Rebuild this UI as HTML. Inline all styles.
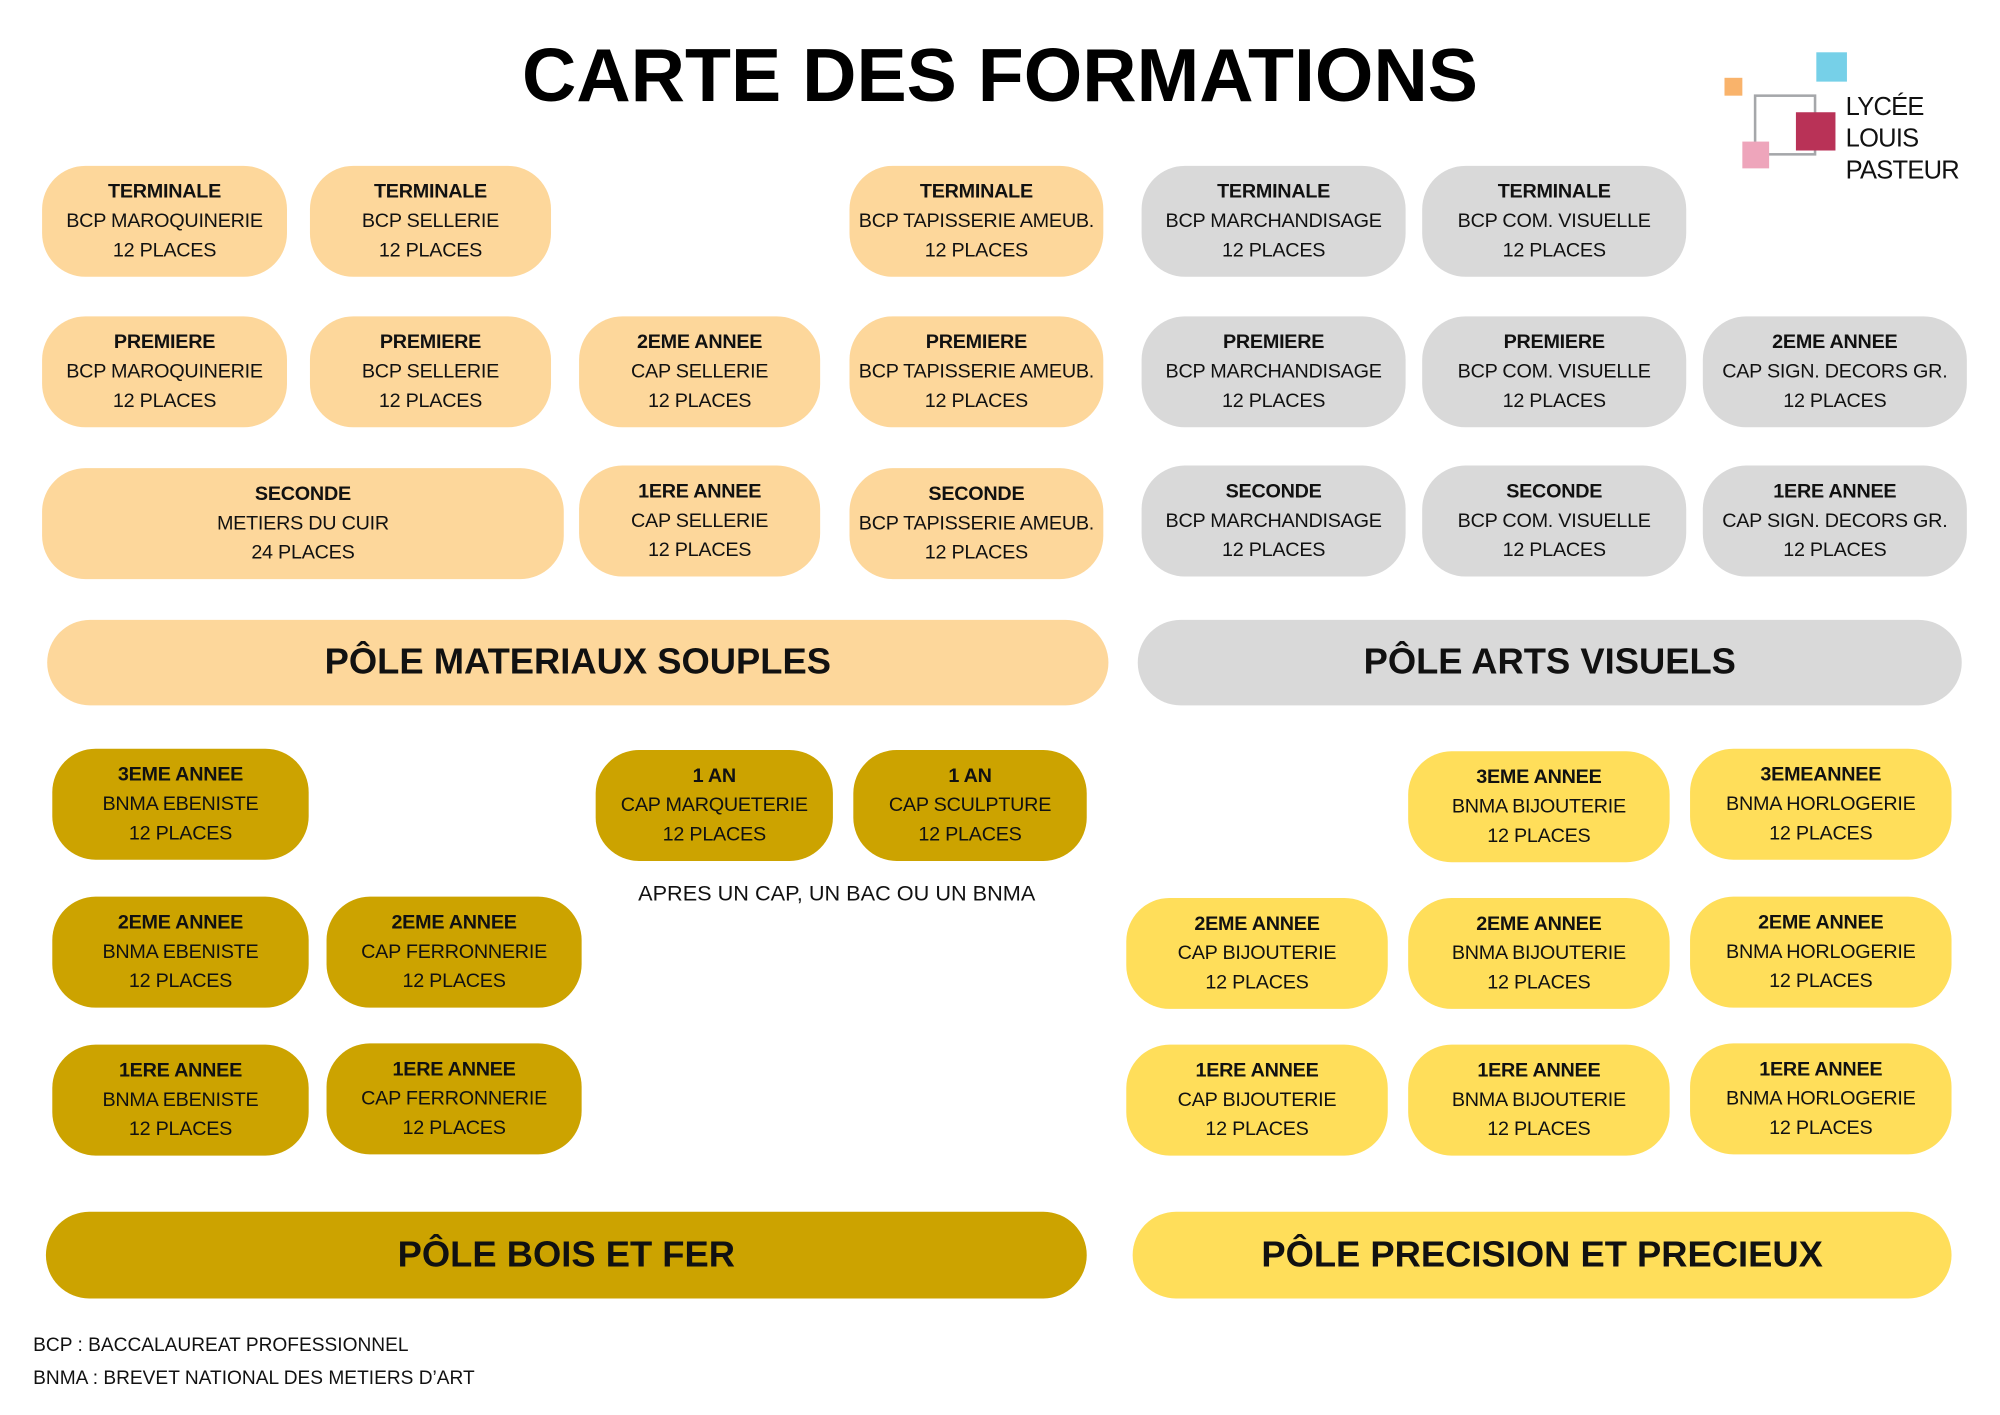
<!DOCTYPE html>
<html><head><meta charset="utf-8"><style>
html,body{margin:0;padding:0;background:#fff;}
body{width:2000px;height:1414px;overflow:hidden;position:relative;font-family:"Liberation Sans",sans-serif;}
#w{position:absolute;left:0;top:0;width:1568px;height:1109px;transform:scale(1.27551);transform-origin:0 0;}
.b{position:absolute;border-radius:34px;display:flex;flex-direction:column;justify-content:center;align-items:center;text-align:center;font-size:15.5px;line-height:23px;color:#111;letter-spacing:-0.2px;}
.b b{font-weight:bold;}
.p{background:#FDD79B}.g{background:#D9D9D9}.o{background:#CCA300}.y{background:#FFDE5A}
.bar{position:absolute;border-radius:34px;display:flex;justify-content:center;align-items:center;font-weight:bold;font-size:28.5px;color:#111;}
.t{position:absolute;font-size:15px;color:#111;}
</style></head><body><div id="w">
<div style="position:absolute;left:0;width:1568px;top:25px;text-align:center;font-weight:900;font-size:59px;color:#000;">CARTE DES FORMATIONS</div>
<div style="position:absolute;left:1352px;top:61px;width:14px;height:14px;background:#F9B36B"></div>
<div style="position:absolute;left:1424px;top:41px;width:24px;height:23px;background:#76D0E8"></div>
<div style="position:absolute;left:1375px;top:74px;width:45px;height:44px;border:2.5px solid #A5A7AA"></div>
<div style="position:absolute;left:1408px;top:88px;width:31px;height:30px;background:#B93257"></div>
<div style="position:absolute;left:1366px;top:111px;width:21px;height:21px;background:#EEA5BB"></div>
<div style="position:absolute;left:1447px;top:72px;font-size:20px;line-height:25px;letter-spacing:-0.6px;color:#111;">LYCÉE<br>LOUIS<br>PASTEUR</div>

<div class="b p" style="left:33px;top:130px;width:192px;height:87px"><b>TERMINALE</b>BCP MAROQUINERIE<br>12 PLACES</div>
<div class="b p" style="left:243px;top:130px;width:189px;height:87px"><b>TERMINALE</b>BCP SELLERIE<br>12 PLACES</div>
<div class="b p" style="left:666px;top:130px;width:199px;height:87px"><b>TERMINALE</b>BCP TAPISSERIE AMEUB.<br>12 PLACES</div>
<div class="b g" style="left:895px;top:130px;width:207px;height:87px"><b>TERMINALE</b>BCP MARCHANDISAGE<br>12 PLACES</div>
<div class="b g" style="left:1115px;top:130px;width:207px;height:87px"><b>TERMINALE</b>BCP COM. VISUELLE<br>12 PLACES</div>

<div class="b p" style="left:33px;top:248px;width:192px;height:87px"><b>PREMIERE</b>BCP MAROQUINERIE<br>12 PLACES</div>
<div class="b p" style="left:243px;top:248px;width:189px;height:87px"><b>PREMIERE</b>BCP SELLERIE<br>12 PLACES</div>
<div class="b p" style="left:454px;top:248px;width:189px;height:87px"><b>2EME ANNEE</b>CAP SELLERIE<br>12 PLACES</div>
<div class="b p" style="left:666px;top:248px;width:199px;height:87px"><b>PREMIERE</b>BCP TAPISSERIE AMEUB.<br>12 PLACES</div>
<div class="b g" style="left:895px;top:248px;width:207px;height:87px"><b>PREMIERE</b>BCP MARCHANDISAGE<br>12 PLACES</div>
<div class="b g" style="left:1115px;top:248px;width:207px;height:87px"><b>PREMIERE</b>BCP COM. VISUELLE<br>12 PLACES</div>
<div class="b g" style="left:1335px;top:248px;width:207px;height:87px"><b>2EME ANNEE</b>CAP SIGN. DECORS GR.<br>12 PLACES</div>

<div class="b p" style="left:33px;top:367px;width:409px;height:87px"><b>SECONDE</b>METIERS DU CUIR<br>24 PLACES</div>
<div class="b p" style="left:454px;top:365px;width:189px;height:87px"><b>1ERE ANNEE</b>CAP SELLERIE<br>12 PLACES</div>
<div class="b p" style="left:666px;top:367px;width:199px;height:87px"><b>SECONDE</b>BCP TAPISSERIE AMEUB.<br>12 PLACES</div>
<div class="b g" style="left:895px;top:365px;width:207px;height:87px"><b>SECONDE</b>BCP MARCHANDISAGE<br>12 PLACES</div>
<div class="b g" style="left:1115px;top:365px;width:207px;height:87px"><b>SECONDE</b>BCP COM. VISUELLE<br>12 PLACES</div>
<div class="b g" style="left:1335px;top:365px;width:207px;height:87px"><b>1ERE ANNEE</b>CAP SIGN. DECORS GR.<br>12 PLACES</div>

<div class="bar p" style="left:37px;top:486px;width:832px;height:67px">PÔLE MATERIAUX SOUPLES</div>
<div class="bar g" style="left:892px;top:486px;width:646px;height:67px">PÔLE ARTS VISUELS</div>

<div class="b o" style="left:41px;top:587px;width:201px;height:87px"><b>3EME ANNEE</b>BNMA EBENISTE<br>12 PLACES</div>
<div class="b o" style="left:467px;top:588px;width:186px;height:87px"><b>1 AN</b>CAP MARQUETERIE<br>12 PLACES</div>
<div class="b o" style="left:669px;top:588px;width:183px;height:87px"><b>1 AN</b>CAP SCULPTURE<br>12 PLACES</div>
<div class="t" style="left:456px;width:400px;top:691px;text-align:center;font-size:17px">APRES UN CAP, UN BAC OU UN BNMA</div>
<div class="b o" style="left:41px;top:703px;width:201px;height:87px"><b>2EME ANNEE</b>BNMA EBENISTE<br>12 PLACES</div>
<div class="b o" style="left:256px;top:703px;width:200px;height:87px"><b>2EME ANNEE</b>CAP FERRONNERIE<br>12 PLACES</div>
<div class="b o" style="left:41px;top:819px;width:201px;height:87px"><b>1ERE ANNEE</b>BNMA EBENISTE<br>12 PLACES</div>
<div class="b o" style="left:256px;top:818px;width:200px;height:87px"><b>1ERE ANNEE</b>CAP FERRONNERIE<br>12 PLACES</div>

<div class="b y" style="left:1104px;top:589px;width:205px;height:87px"><b>3EME ANNEE</b>BNMA BIJOUTERIE<br>12 PLACES</div>
<div class="b y" style="left:1325px;top:587px;width:205px;height:87px"><b>3EMEANNEE</b>BNMA HORLOGERIE<br>12 PLACES</div>
<div class="b y" style="left:883px;top:704px;width:205px;height:87px"><b>2EME ANNEE</b>CAP BIJOUTERIE<br>12 PLACES</div>
<div class="b y" style="left:1104px;top:704px;width:205px;height:87px"><b>2EME ANNEE</b>BNMA BIJOUTERIE<br>12 PLACES</div>
<div class="b y" style="left:1325px;top:703px;width:205px;height:87px"><b>2EME ANNEE</b>BNMA HORLOGERIE<br>12 PLACES</div>
<div class="b y" style="left:883px;top:819px;width:205px;height:87px"><b>1ERE ANNEE</b>CAP BIJOUTERIE<br>12 PLACES</div>
<div class="b y" style="left:1104px;top:819px;width:205px;height:87px"><b>1ERE ANNEE</b>BNMA BIJOUTERIE<br>12 PLACES</div>
<div class="b y" style="left:1325px;top:818px;width:205px;height:87px"><b>1ERE ANNEE</b>BNMA HORLOGERIE<br>12 PLACES</div>

<div class="bar o" style="left:36px;top:950px;width:816px;height:68px">PÔLE BOIS ET FER</div>
<div class="bar y" style="left:888px;top:950px;width:642px;height:68px">PÔLE PRECISION ET PRECIEUX</div>

<div class="t" style="left:26px;top:1046px">BCP : BACCALAUREAT PROFESSIONNEL</div>
<div class="t" style="left:26px;top:1072px">BNMA : BREVET NATIONAL DES METIERS D’ART</div>
</div></body></html>
